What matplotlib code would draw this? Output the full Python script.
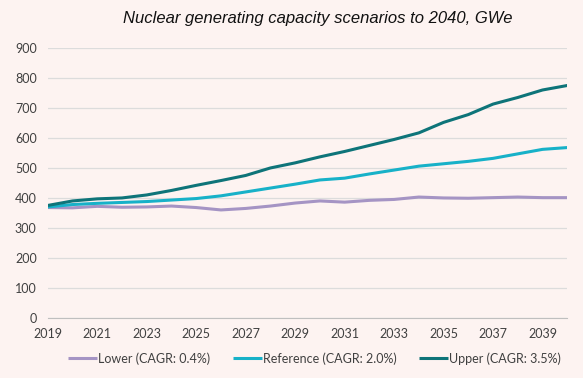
import matplotlib
matplotlib.use('Agg')
import matplotlib.pyplot as plt

years = list(range(2019, 2041))
lower = [368, 367, 372, 369, 370, 373, 368, 360, 365, 373, 383, 390, 386, 392, 395, 403,
         400, 399, 401, 403, 401, 401]
reference = [370, 378, 382, 385, 388, 393, 398, 407, 420, 433, 446, 460, 466, 480, 493, 506,
             514, 522, 532, 547, 562, 568]
upper = [375, 390, 397, 400, 410, 425, 442, 458, 475, 500, 517, 537, 555, 575, 595, 617,
         652, 678, 713, 735, 760, 775]
labels = ['Lower (CAGR: 0.4%)', 'Reference (CAGR: 2.0%)', 'Upper (CAGR: 3.5%)']
colors = ['#A594C4', '#17B1C8', '#0E7479']

bg = '#FDF3F1'
fig = plt.figure(figsize=(5.83, 3.78), dpi=100, facecolor=bg)
ax = fig.add_axes([0.082, 0.159, 0.891, 0.714], facecolor=bg)

for series, lab, col in zip([lower, reference, upper], labels, colors):
    ax.plot(years, series, color=col, lw=2.2, label=lab, solid_capstyle='butt')

ax.set_xlim(2019, 2040)
ax.set_ylim(0, 900)
ax.set_yticks(range(0, 901, 100))
ax.set_xticks(range(2019, 2040, 2))
ax.grid(axis='y', color='#DCDCDC', lw=0.9)
ax.set_axisbelow(True)
for s in ['top', 'right', 'left']:
    ax.spines[s].set_visible(False)
ax.spines['bottom'].set_color('#BFBFBF')
ax.tick_params(length=0, labelsize=9, labelcolor='#404040')
ax.tick_params(axis='x', pad=7)
ax.tick_params(axis='y', pad=8)
for t in ax.get_xticklabels() + ax.get_yticklabels():
    t.set_family('Lato')

fig.text(0.545, 0.952, 'Nuclear generating capacity scenarios to 2040, GWe',
         ha='center', va='center', fontsize=12, style='italic',
         family='Liberation Sans', color='#111111')

leg = fig.legend(loc='center', bbox_to_anchor=(0.54, 0.052), ncol=3, frameon=False,
                 prop={'family': 'Lato', 'size': 9}, handlelength=2.3, handletextpad=0.1,
                 columnspacing=1.8)
for t in leg.get_texts():
    t.set_color('#404040')

fig.savefig('out.png', dpi=100, facecolor=bg)
